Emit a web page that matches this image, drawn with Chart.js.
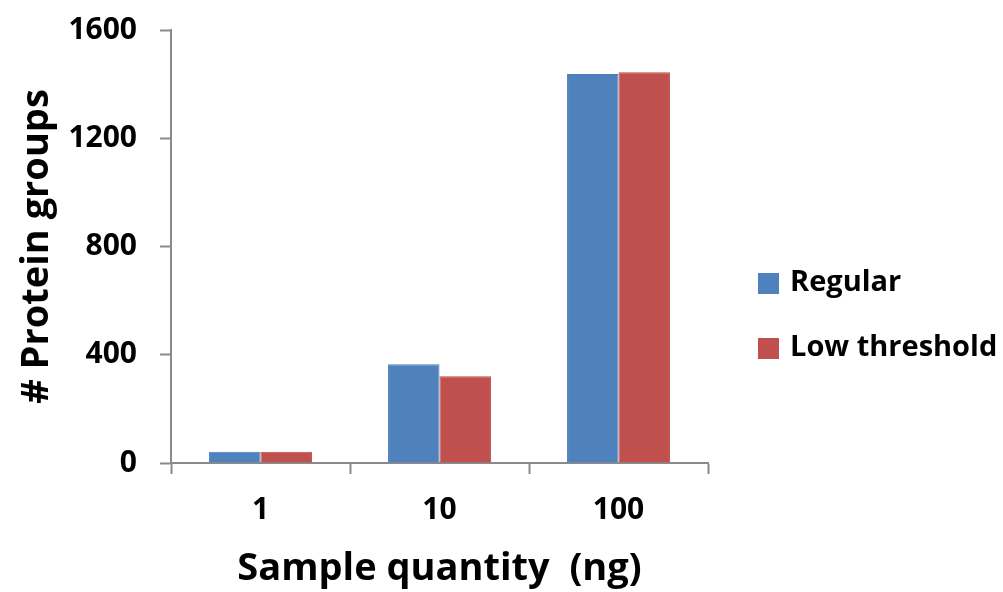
<!DOCTYPE html>
<html>
<head>
<meta charset="utf-8">
<script src="https://cdn.jsdelivr.net/npm/chart.js@4"></script>
<style>
  html, body { margin: 0; padding: 0; background: #fff; }
  #wrap { width: 1003px; height: 592px; }
</style>
</head>
<body>
<div id="wrap"><canvas id="chart" width="1003" height="592"></canvas></div>
<script>
// Data
const categories = ['1', '10', '100'];
const regularValues = [42, 365, 1437];
const lowThresholdValues = [42, 321, 1444];
const seriesNames = ['Regular', 'Low threshold'];
const yTicks = [0, 400, 800, 1200, 1600];

const FONT = "'Open Sans', sans-serif";
const axisGray = '#8a8a8a';

// simple legend on the right, drawn from the datasets
const sideLegend = {
    id: 'sideLegend',
    afterDraw(chart) {
        const c = chart.ctx;
        c.save();
        c.font = 'bold 29px ' + FONT;
        c.textBaseline = 'middle';
        c.textAlign = 'left';
        chart.data.datasets.forEach((ds, i) => {
            const cy = 283 + i * 65;
            c.fillStyle = ds.backgroundColor;
            c.fillRect(758, cy - 10, 21, 21);
            c.fillStyle = '#000';
            c.fillText(ds.label, 790, cy);
        });
        c.restore();
    }
};

const ctx = document.getElementById('chart').getContext('2d');
new Chart(ctx, {
    type: 'bar',
    data: {
        labels: categories,
        datasets: [
            { label: seriesNames[0], data: regularValues, backgroundColor: '#4F81BD', borderColor: '#4A7EBB', borderWidth: 1 },
            { label: seriesNames[1], data: lowThresholdValues, backgroundColor: '#C0504D', borderColor: '#BE4B48', borderWidth: 1 }
        ]
    },
    options: {
        responsive: false,
        animation: false,
        layout: { padding: { top: 30, right: 295, left: 0, bottom: 0 } },
        datasets: { bar: { barPercentage: 1, categoryPercentage: 0.575 } },
        plugins: {
            legend: { display: false },
            tooltip: { enabled: false }
        },
        scales: {
            x: {
                grid: { drawOnChartArea: false, color: axisGray, tickLength: 11, tickWidth: 2, offset: true },
                border: { color: axisGray, width: 2 },
                ticks: { color: '#000', padding: 18, font: { family: FONT, size: 30, weight: 'bold' } },
                title: {
                    display: true,
                    text: 'Sample quantity  (ng)',
                    color: '#000',
                    padding: { top: 0, bottom: 0 },
                    font: { family: FONT, size: 38, weight: 'bold' }
                },
                afterFit(scale) { scale.height = 129; }
            },
            y: {
                min: 0,
                max: yTicks[yTicks.length - 1],
                afterBuildTicks(scale) { scale.ticks = yTicks.map(v => ({ value: v })); },
                grid: { drawOnChartArea: false, color: axisGray, tickLength: 11, tickWidth: 2 },
                border: { color: axisGray, width: 2 },
                ticks: {
                    color: '#000',
                    padding: 23,
                    font: { family: FONT, size: 30, weight: 'bold' },
                    callback: v => String(v)
                },
                title: {
                    display: true,
                    text: '# Protein groups',
                    color: '#000',
                    padding: { top: 14, bottom: 0 },
                    font: { family: FONT, size: 38, weight: 'bold' }
                },
                afterFit(scale) {
                    scale.width = 171;
                    // let layout padding alone decide the plot top
                    scale.paddingTop = 0;
                    scale.paddingBottom = 0;
                }
            }
        }
    },
    plugins: [sideLegend]
});
</script>
</body>
</html>
